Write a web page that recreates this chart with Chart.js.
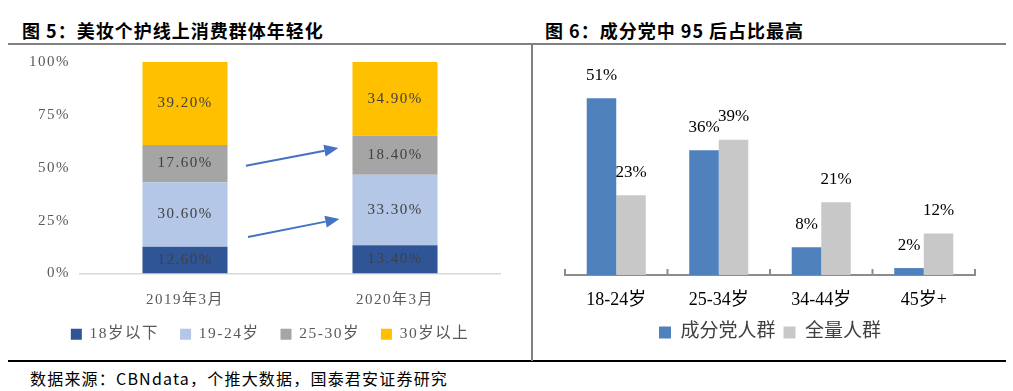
<!DOCTYPE html>
<html>
<head>
<meta charset="utf-8">
<script src="https://cdn.jsdelivr.net/npm/chart.js@4.4.1/dist/chart.umd.min.js"></script>
<style>
  body { margin: 0; background: #fff; width: 1013px; height: 391px; position: relative; overflow: hidden; font-family: "Noto Sans CJK SC", sans-serif; }
  .title { position: absolute; top: 17px; font-size: 18px; font-weight: bold; color: #000; letter-spacing: 1px; line-height: 26px; }
  .rule { position: absolute; left: 8px; width: 998px; }
  .box { position: absolute; }
  .source { position: absolute; left: 30px; top: 367px; font-size: 16px; letter-spacing: 1.2px; color: #000; line-height: 22px; }
</style>
</head>
<body>
<div class="title" style="left:22px">图 5：美妆个护线上消费群体年轻化</div>
<div class="title" style="left:545px">图 6：成分党中 95 后占比最高</div>
<div class="rule" style="top:43px;height:2px;background:#808080"></div>
<div class="rule" style="top:360px;height:2px;background:#000"></div>
<div style="position:absolute;left:531px;top:44px;width:2px;height:317px;background:#808080"></div>
<div class="box" style="left:0;top:43px;width:520px;height:317px"><canvas id="ageChart"></canvas></div>
<div class="box" style="left:534px;top:48px;width:472px;height:312px"><canvas id="groupChart"></canvas></div>
<div class="source">数据来源：CBNdata，个推大数据，国泰君安证券研究</div>

<script>
// 图5 数据
const months = ['2019年3月', '2020年3月'];
const ageGroups = ['18岁以下', '19-24岁', '25-30岁', '30岁以上'];
const under18 = [12.6, 13.4];
const age19to24 = [30.6, 33.3];
const age25to30 = [17.6, 18.4];
const over30 = [39.2, 34.9];
const shareTicks = [0, 25, 50, 75, 100];
// 箭头（类别位置, 百分比）
const arrowFrom = [[0.29, 50.9], [0.30, 17.3]];
const arrowTo = [[0.73, 59.3], [0.735, 25.8]];

// 图6 数据
const groups = ['18-24岁', '25-34岁', '34-44岁', '45岁+'];
const seriesNames = ['成分党人群', '全量人群'];
const ingredientFans = [51, 36, 8, 2];
const allUsers = [23, 39, 21, 12];

const serif = '"Liberation Serif", "Noto Sans CJK SC", serif';

// 堆叠柱内的数值标签 + 箭头
const stackLabels = {
    id: 'stackLabels',
    afterDatasetsDraw(chart) {
        const ctx = chart.ctx;
        ctx.save();
        ctx.font = '15px ' + serif;
        ctx.fillStyle = '#404040';
        ctx.textAlign = 'center';
        ctx.textBaseline = 'middle';
        chart.data.datasets.forEach(function (ds, i) {
            chart.getDatasetMeta(i).data.forEach(function (bar, j) {
                ctx.fillText(ds.data[j].toFixed(2) + '%', bar.x, (bar.y + bar.base) / 2);
            });
        });
        const xs = chart.scales.x, ys = chart.scales.y;
        ctx.strokeStyle = '#4472C4';
        ctx.fillStyle = '#4472C4';
        ctx.lineWidth = 2;
        arrowFrom.forEach(function (p, k) {
            const x1 = xs.getPixelForValue(p[0]), y1 = ys.getPixelForValue(p[1]);
            const x2 = xs.getPixelForValue(arrowTo[k][0]), y2 = ys.getPixelForValue(arrowTo[k][1]);
            const a = Math.atan2(y2 - y1, x2 - x1);
            const len = 14, w = 6;
            const bx = x2 - len * Math.cos(a), by = y2 - len * Math.sin(a);
            ctx.beginPath();
            ctx.moveTo(x1, y1);
            ctx.lineTo(bx, by);
            ctx.stroke();
            ctx.beginPath();
            ctx.moveTo(x2, y2);
            ctx.lineTo(bx + w * Math.sin(a), by - w * Math.cos(a));
            ctx.lineTo(bx - w * Math.sin(a), by + w * Math.cos(a));
            ctx.closePath();
            ctx.fill();
        });
        ctx.restore();
    }
};

// 字距 + 放开 y 轴标签的裁剪区域
const spacing = {
    id: 'spacing',
    beforeLayout(chart) { chart.ctx.letterSpacing = '1.5px'; },
    afterLayout(chart) { chart.scales.y.left = 0; },
    beforeDraw(chart) { chart.ctx.letterSpacing = '1.5px'; }
};

new Chart(document.getElementById('ageChart'), {
    type: 'bar',
    data: {
        labels: months,
        datasets: [
            { label: ageGroups[0], data: under18, backgroundColor: '#2F5597' },
            { label: ageGroups[1], data: age19to24, backgroundColor: '#B4C7E7' },
            { label: ageGroups[2], data: age25to30, backgroundColor: '#A5A5A5' },
            { label: ageGroups[3], data: over30, backgroundColor: '#FFC000' }
        ]
    },
    options: {
        responsive: true,
        maintainAspectRatio: false,
        animation: false,
        barPercentage: 0.405,
        categoryPercentage: 1,
        layout: { padding: { top: 9, left: 40, right: 20, bottom: 8 } },
        plugins: {
            legend: {
                position: 'bottom',
                labels: { boxWidth: 11, boxHeight: 11, padding: 21, color: '#595959', font: { size: 15.5, family: serif } }
            },
            tooltip: { enabled: false }
        },
        scales: {
            x: {
                stacked: true,
                grid: { display: false },
                border: { color: '#D9D9D9', width: 1.5 },
                ticks: { color: '#595959', padding: 10, font: { size: 15, family: serif } },
                afterFit(s) { s.height = 32; }
            },
            y: {
                stacked: true,
                min: 0,
                max: 100,
                afterBuildTicks(s) { s.ticks = shareTicks.map(function (v) { return { value: v }; }); },
                grid: { display: false, drawTicks: false },
                border: { display: false },
                ticks: { color: '#595959', padding: 10, font: { size: 15, family: serif }, callback: function (v) { return v + '%'; } },
                afterFit(s) { s.width = 40; }
            }
        }
    },
    plugins: [spacing, stackLabels]
});

// 柱顶数值标签 + 向上的分类刻度
const topLabels = {
    id: 'topLabels',
    afterDatasetsDraw(chart) {
        const ctx = chart.ctx;
        ctx.save();
        ctx.font = '17px ' + serif;
        ctx.fillStyle = '#000';
        ctx.textAlign = 'center';
        ctx.textBaseline = 'middle';
        chart.data.datasets.forEach(function (ds, i) {
            chart.getDatasetMeta(i).data.forEach(function (bar, j) {
                ctx.fillText(ds.data[j] + '%', bar.x, bar.y - 23);
            });
        });
        const xs = chart.scales.x;
        const step = (xs.right - xs.left) / groups.length;
        ctx.strokeStyle = '#8C8C8C';
        ctx.lineWidth = 2;
        for (let i = 0; i <= groups.length; i++) {
            const x = xs.left + i * step;
            ctx.beginPath();
            ctx.moveTo(x, xs.top);
            ctx.lineTo(x, xs.top - 6);
            ctx.stroke();
        }
        ctx.restore();
    }
};

new Chart(document.getElementById('groupChart'), {
    type: 'bar',
    data: {
        labels: groups,
        datasets: [
            { label: seriesNames[0], data: ingredientFans, backgroundColor: '#4F81BD' },
            { label: seriesNames[1], data: allUsers, backgroundColor: '#C8C8C8' }
        ]
    },
    options: {
        responsive: true,
        maintainAspectRatio: false,
        animation: false,
        barPercentage: 1,
        categoryPercentage: 0.576,
        layout: { padding: { top: 19, left: 31, right: 31, bottom: 8 } },
        plugins: {
            legend: {
                position: 'bottom',
                labels: { boxWidth: 12, boxHeight: 12, padding: 8, color: '#404040', font: { size: 19, family: serif } }
            },
            tooltip: { enabled: false }
        },
        scales: {
            x: {
                grid: { display: false },
                border: { color: '#8C8C8C', width: 2 },
                ticks: { color: '#000', padding: 6, font: { size: 18, family: serif } },
                afterFit(s) { s.height = 40; }
            },
            y: { display: false, min: 0, max: 60 }
        }
    },
    plugins: [topLabels]
});
</script>
</body>
</html>
